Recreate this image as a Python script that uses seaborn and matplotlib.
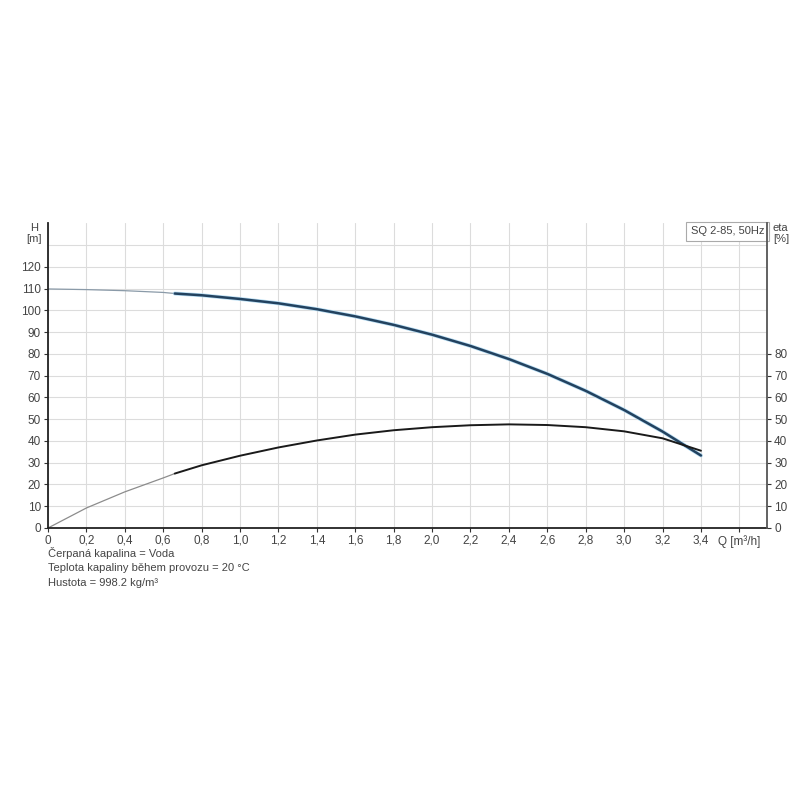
import numpy as np
import pandas as pd
import matplotlib
matplotlib.use("Agg")
import matplotlib.pyplot as plt
import seaborn as sns

# values
q = [0, 0.2, 0.4, 0.6, 0.66, 0.8, 1.0, 1.2, 1.4, 1.6, 1.8, 2.0, 2.2, 2.4, 2.6, 2.8, 3.0, 3.2, 3.4]
h = [109.8, 109.5, 109.0, 108.2, 107.7, 106.9, 105.2, 103.2, 100.5, 97.2, 93.3, 88.8, 83.6, 77.6, 70.8, 63.0, 54.2, 44.3, 33.3]
eta = [0, 9.2, 16.6, 23.0, 25.0, 28.8, 33.2, 37.0, 40.2, 42.9, 44.9, 46.3, 47.2, 47.6, 47.3, 46.3, 44.4, 41.2, 35.5]
q_start = 0.66  # start of the drawn (thick) operating range

x_ticks = [0, 0.2, 0.4, 0.6, 0.8, 1.0, 1.2, 1.4, 1.6, 1.8, 2.0, 2.2, 2.4, 2.6, 2.8, 3.0, 3.2, 3.4, 3.6]
x_labels = ["0", "0,2", "0,4", "0,6", "0,8", "1,0", "1,2", "1,4", "1,6", "1,8", "2,0",
            "2,2", "2,4", "2,6", "2,8", "3,0", "3,2", "3,4", "Q [m³/h]"]
h_ticks = [0, 10, 20, 30, 40, 50, 60, 70, 80, 90, 100, 110, 120]
eta_ticks = [0, 10, 20, 30, 40, 50, 60, 70, 80]
notes = ["Čerpaná kapalina = Voda",
         "Teplota kapaliny během provozu = 20 °C",
         "Hustota = 998.2 kg/m³"]

df = pd.DataFrame({"Q": q, "H": h, "eta": eta})
low = df[df["Q"] <= q_start]
high = df[df["Q"] >= q_start]

sns.set_theme(style="white")
plt.rcParams['font.family'] = ['Liberation Sans', 'DejaVu Sans']

fig = plt.figure(figsize=(8, 8), dpi=100)
ax = fig.add_axes([0.06, 0.34, 0.899, 0.381])

txt_col = "#444444"

# grey thin parts outside the operating range
sns.lineplot(data=low, x="Q", y="H", ax=ax, color="#8a9aa8", lw=0.9)
sns.lineplot(data=low, x="Q", y="eta", ax=ax, color="#8c8c8c", lw=0.9)
# thick parts
sns.lineplot(data=high, x="Q", y="H", ax=ax, color="#b5dcf3", lw=2.8)
sns.lineplot(data=high, x="Q", y="H", ax=ax, color="#23425f", lw=1.8)
sns.lineplot(data=high, x="Q", y="eta", ax=ax, color="#1a1a1a", lw=1.4)

ax.set_xlim(0, 3.745)
ax.set_ylim(0, 140)
ax.set_xticks(x_ticks)
ax.set_xticklabels(x_labels, fontsize=8.5, color=txt_col)
ax.set_yticks(h_ticks)
ax.set_yticklabels([str(t) for t in h_ticks], fontsize=8.5, color=txt_col)
ax.set_yticks(np.arange(0, 140, 10), minor=True)
ax.set_xlabel("")
ax.set_ylabel("")
ax.grid(True, which="both", axis="y", color="#dcdcdc", lw=0.8)
ax.grid(True, which="major", axis="x", color="#dcdcdc", lw=0.8)
ax.tick_params(axis="both", which="major", direction="out", length=3, width=0.8,
               color="#333333", pad=2, left=True, bottom=True)
ax.tick_params(axis="y", which="minor", length=0)

for s in ["top", "right"]:
    ax.spines[s].set_visible(False)
for s in ["left", "bottom"]:
    ax.spines[s].set_color("#222222")
    ax.spines[s].set_linewidth(1.3)

ax2 = ax.twinx()
ax2.set_ylim(0, 140)
ax2.set_yticks(eta_ticks)
ax2.set_yticklabels([str(t) for t in eta_ticks], fontsize=8.5, color=txt_col)
ax2.tick_params(axis="y", direction="out", length=3, width=0.8, color="#333333", pad=2, right=True)
ax2.grid(False)
for s in ["top", "left", "bottom"]:
    ax2.spines[s].set_visible(False)
ax2.spines["right"].set_color("#555555")
ax2.spines["right"].set_linewidth(1.3)

ax.text(-0.008, 1.0, "H\n[m]", transform=ax.transAxes, ha="right", va="top",
        fontsize=8, color=txt_col, multialignment="center", linespacing=1.1)
ax.text(1.008, 1.0, "eta\n[%]", transform=ax.transAxes, ha="left", va="top",
        fontsize=8, color=txt_col, linespacing=1.1)

ax.text(0.996, 0.99, "SQ 2-85, 50Hz", transform=ax.transAxes, ha="right", va="top",
        fontsize=8, color=txt_col, zorder=5,
        bbox=dict(boxstyle="square,pad=0.4", fc="white", ec="#aaaaaa", lw=0.8))

for i, line in enumerate(notes):
    fig.text(0.06, 0.309 - i * 0.0188, line, fontsize=8, color=txt_col, ha="left", va="center")

fig.savefig("out.png", dpi=100, facecolor="white")
